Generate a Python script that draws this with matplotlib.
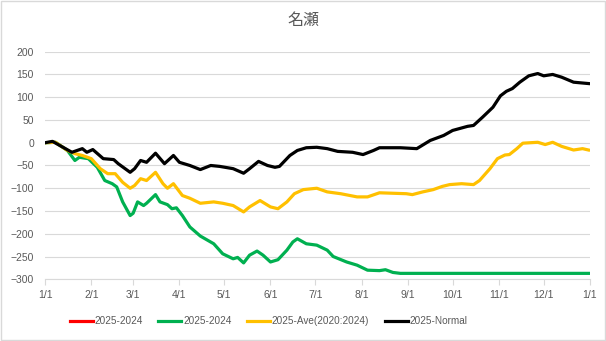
import matplotlib.pyplot as plt
import matplotlib.dates as mdates
import numpy as np
import pandas as pd

plt.rcParams['font.family'] = ['Liberation Sans', 'Noto Sans CJK JP']

start = pd.Timestamp("2025-01-01")

# day offsets from 1/1 and values
black_days = [0, 5, 18, 25, 28, 32, 39, 46, 49, 57, 60, 64, 68, 74, 80, 86, 90, 97, 104, 111,
              117, 126, 133, 137, 143, 149, 154, 157, 164, 169, 175, 182, 189, 196, 206, 213,
              220, 224, 238, 249, 258, 267, 273, 283, 287, 293, 300, 305, 309, 313, 318, 324,
              330, 334, 340, 346, 354, 364]
black_vals = [0, 3, -21, -13, -21, -15, -35, -37, -46, -65, -57, -39, -43, -23, -46, -28, -43,
              -50, -59, -50, -52, -57, -67, -57, -41, -50, -54, -52, -28, -17, -11, -10, -13,
              -19, -21, -26, -17, -11, -11, -13, 5, 16, 27, 36, 38, 56, 78, 103, 113, 119, 133,
              147, 152, 147, 150, 144, 133, 130]

yellow_days = [0, 7, 15, 20, 25, 31, 37, 42, 47, 52, 57, 60, 64, 68, 74, 79, 82, 86, 92, 97,
               104, 113, 119, 126, 133, 137, 144, 151, 156, 162, 167, 173, 182, 189, 198, 209,
               216, 224, 242, 246, 253, 260, 266, 271, 279, 287, 291, 298, 303, 308, 311, 316,
               320, 330, 335, 340, 346, 354, 360, 364]
yellow_vals = [0, 1, -17, -24, -28, -35, -57, -68, -68, -87, -100, -94, -79, -83, -65, -90, -100,
               -90, -116, -122, -133, -130, -133, -138, -152, -141, -127, -141, -145, -130, -112,
               -103, -100, -108, -112, -119, -119, -110, -112, -114, -108, -103, -96, -92, -90,
               -92, -83, -57, -35, -27, -26, -13, -1, 1, -4, 1, -8, -16, -13, -16]

green_days = [0, 7, 15, 20, 23, 29, 35, 40, 45, 48, 52, 57, 59, 62, 66, 68, 74, 77, 82, 85, 88,
              92, 97, 104, 113, 119, 126, 129, 133, 137, 142, 146, 151, 156, 162, 166, 169, 175,
              182, 189, 193, 202, 209, 216, 224, 228, 233, 238, 364]
green_vals = [0, 1, -17, -39, -32, -35, -54, -83, -90, -97, -130, -160, -155, -130, -138, -133,
              -114, -130, -136, -145, -143, -160, -185, -205, -222, -244, -255, -252, -264, -247,
              -238, -247, -262, -257, -236, -218, -211, -222, -225, -236, -250, -262, -269, -280,
              -281, -279, -285, -287, -287]

red_days = []
red_vals = []

labels = ["2025-2024", "2025-2024", "2025-Ave(2020:2024)", "2025-Normal"]
colors = ["#ff0000", "#00b050", "#ffc000", "#000000"]


def to_dates(days):
    return start + pd.to_timedelta(days, unit="D")


fig = plt.figure(figsize=(6.06, 3.41), dpi=100)
ax = fig.add_axes([0.0743, 0.181, 0.8993, 0.6674])

series = [(red_days, red_vals), (green_days, green_vals),
          (yellow_days, yellow_vals), (black_days, black_vals)]
for (d, v), lab, c in zip(series, labels, colors):
    ax.plot(to_dates(d), v, color=c, lw=2.3, label=lab, solid_joinstyle="round")

ax.set_ylim(-300, 200)
ax.set_yticks(np.arange(-300, 201, 50))
ax.set_xlim(start, pd.Timestamp("2026-01-01"))
ax.xaxis.set_major_locator(mdates.MonthLocator())
ax.xaxis.set_major_formatter(plt.FuncFormatter(
    lambda x, p: "{}/{}".format(mdates.num2date(x).month, mdates.num2date(x).day)))

ax.grid(axis="y", color="#d9d9d9", lw=0.8)
ax.set_axisbelow(True)
for s in ["top", "right", "left"]:
    ax.spines[s].set_visible(False)
ax.spines["bottom"].set_color("#d9d9d9")
ax.tick_params(axis="y", length=0, labelsize=7.5, labelcolor="#595959", pad=8)
ax.tick_params(axis="x", length=4, color="#d9d9d9", labelsize=7.5, labelcolor="#595959", pad=4)

fig.text(0.5, 0.94, "名瀬", ha="center", va="center", fontsize=11.5, color="#595959",
         family=["Noto Sans CJK JP"])

fig.legend(loc="center left", bbox_to_anchor=(0.1, 0.058), ncol=4, frameon=False,
           fontsize=7.2, labelcolor="#595959", handlelength=2.3, handletextpad=0.15,
           columnspacing=1.6)

fig.patches.append(plt.Rectangle((0.002, 0.003), 0.996, 0.994, transform=fig.transFigure,
                                 fill=False, edgecolor="#d9d9d9", lw=1))

fig.savefig("out.png", dpi=100)
